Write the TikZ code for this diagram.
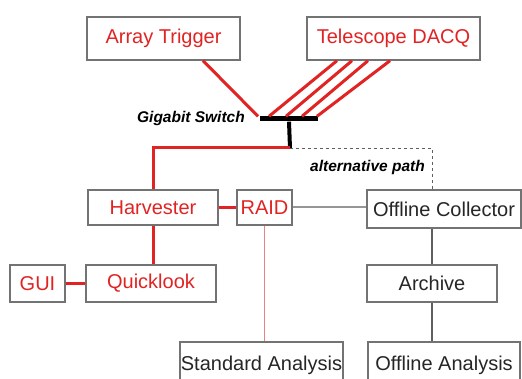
\documentclass[tikz,border=0pt]{standalone}
\usepackage{fontspec}
\setmainfont{Liberation Sans}
\usetikzlibrary{calc}
\definecolor{myred}{RGB}{225,35,35}
\definecolor{boxgray}{RGB}{115,115,115}
\definecolor{pinkline}{RGB}{235,130,130}
\definecolor{midgray}{RGB}{150,150,150}
\definecolor{darkline}{RGB}{95,95,95}
\begin{document}
\begin{tikzpicture}[x=1pt,y=-1pt,
  box/.style={draw=boxgray,line width=1.4pt,rectangle,inner sep=0pt,
    font=\fontsize{20}{22}\selectfont,text=black!85},
  redbox/.style={box,text=myred},
  redline/.style={draw=myred,line width=3pt},
  lbl/.style={font=\fontsize{15.5}{17}\selectfont\bfseries\itshape,inner sep=0pt}]
\useasboundingbox[fill=white] (0,0) rectangle (522,379);
% nodes
\node[redbox,minimum width=153pt,minimum height=43pt] (at) at (163.5,38.5) {Array Trigger};
\node[redbox,minimum width=173pt,minimum height=43pt] (td) at (393.5,38.5) {Telescope DACQ};
\node[fill=black,inner sep=0pt,minimum width=58pt,minimum height=5pt] (sw) at (289,119) {};
\node[lbl,anchor=east] (swl) at (245,118) {Gigabit Switch};
\coordinate (j) at (290,148);
\node[lbl,anchor=east] (alt) at (425,167) {alternative path};
\node[redbox,minimum width=130pt,minimum height=35pt] (harv) at (153,207.5) {Harvester};
\node[redbox,minimum width=55pt,minimum height=35pt] (raid) at (264.5,207.5) {RAID};
\node[box,minimum width=154pt,minimum height=38pt] (oc) at (444,209) {Offline Collector};
\node[redbox,minimum width=55pt,minimum height=37pt] (gui) at (37.5,283.5) {GUI};
\node[redbox,minimum width=130pt,minimum height=37pt] (ql) at (151,283.5) {Quicklook};
\node[box,minimum width=130pt,minimum height=37pt] (arch) at (432,283.5) {Archive};
\node[box,minimum width=163pt,minimum height=46pt] (sa) at (261.5,365) {Standard Analysis};
\node[box,minimum width=152pt,minimum height=46pt] (oa) at (444,365) {Offline Analysis};
% connectors to switch
\draw[redline] ($(at.south)+(39.5,0)$) -- ($(sw.north)+(-31,0)$);
\draw[redline] ($(td.south)+(-56.5,0)$) -- ($(sw.north)+(-20,0)$);
\draw[redline] ($(td.south)+(-41.5,0)$) -- ($(sw.north)+(-3,0)$);
\draw[redline] ($(td.south)+(-25.5,0)$) -- ($(sw.north)+(13,0)$);
\draw[redline] ($(td.south)+(-3.5,0)$) -- ($(sw.north)+(28,0)$);
\draw[line width=4pt] (sw.south) -- (j);
\draw[redline] (j) -| (harv.north);
\draw[dashed,line width=0.9pt,darkline] (j) -| (arch.north |- oc.north);
% other connectors
\draw[redline] (harv.east) -- (raid.west);
\draw[midgray,line width=2pt] (raid.east) -- (raid.east -| oc.west);
\draw[redline] (harv.south) -- (harv.south |- ql.north);
\draw[redline] (gui.east) -- (ql.west);
\draw[pinkline,line width=1.3pt] (raid.south) -- (raid.south |- sa.north);
\draw[darkline,line width=1.2pt] (arch.north |- oc.south) -- (arch.north);
\draw[darkline,line width=1.2pt] (arch.south) -- (arch.south |- oa.north);
\end{tikzpicture}
\end{document}
